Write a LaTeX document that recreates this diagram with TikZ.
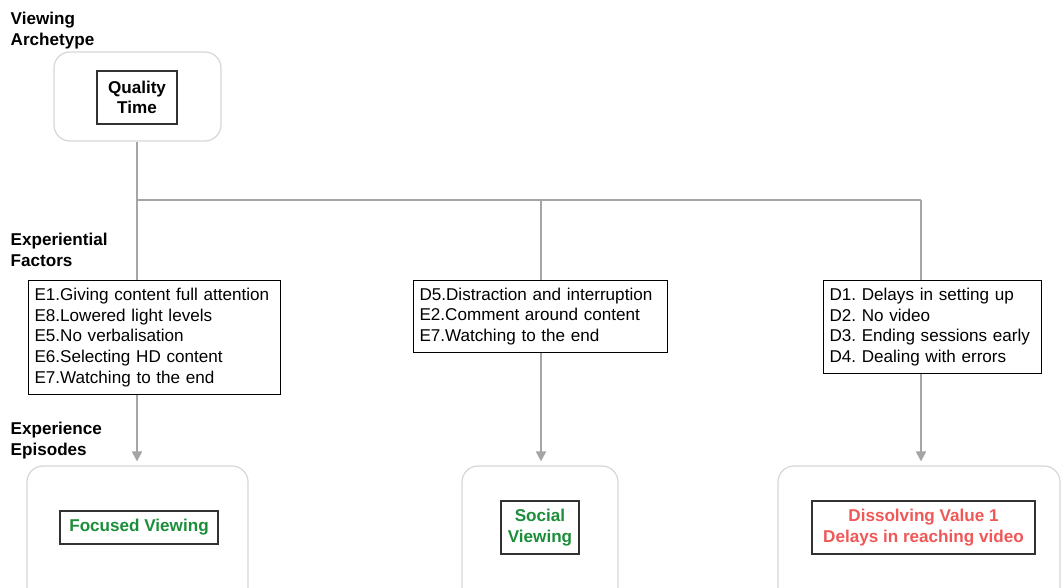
\documentclass[tikz,border=0pt]{standalone}
\usepackage{fontspec}
\setmainfont{Liberation Sans}
\usetikzlibrary{positioning,arrows.meta}

\definecolor{wiregray}{RGB}{165,165,165}
\definecolor{panelrim}{RGB}{215,215,215}
\definecolor{tagrim}{RGB}{50,50,50}
\definecolor{positive}{RGB}{28,142,58}
\definecolor{negative}{RGB}{240,88,88}

\newcommand{\bodysize}{\fontsize{17.1}{20.7}\selectfont\frenchspacing}

\tikzset{
  tier/.style={anchor=north west, inner sep=0pt, align=left, font=\bodysize\bfseries},
  panel/.style={draw=panelrim, line width=1.2pt, rounded corners=16pt, fill=white},
  tag/.style={draw=tagrim, line width=1.3pt, align=center, inner sep=0pt, font=\bodysize\bfseries},
  factors/.style={draw=black, line width=1pt, anchor=north west, align=left,
    inner xsep=6pt, inner ysep=0pt, font=\bodysize},
  wire/.style={draw=wiregray, line width=2pt},
  feed/.style={wire, -{Triangle[length=10pt,width=10pt]}, shorten >=4pt}
}

\begin{document}
\begin{tikzpicture}[x=1pt, y=-1pt]
  \useasboundingbox (0,0) rectangle (1061,588);

  % row headings
  \node (lblarch) [tier] at (10.5,12) {Viewing\\Archetype};
  \node (lblfact) [tier] at (10.5,233) {Experiential\\Factors};
  \node (lblepis) [tier] at (10.5,422) {Experience\\Episodes};

  % archetype
  \node (arch) [panel, minimum width=167pt, minimum height=89pt] at (137.5,96.5) {};
  \node (quality) [tag, minimum width=80pt, minimum height=53pt] at (137,97.5) {Quality\\Time};

  % experiential factors
  \node (f1) [factors, text width=240pt, minimum height=114pt] at (28,280)
    {E1.Giving content full attention\\E8.Lowered light levels\\E5.No verbalisation\\E6.Selecting HD content\\E7.Watching to the end};
  \node (f2) [factors, text width=242pt, minimum height=72pt] at (413,280)
    {D5.Distraction and interruption\\E2.Comment around content\\E7.Watching to the end};
  \node (f3) [factors, text width=206pt, minimum height=93pt] at (823,280)
    {D1. Delays in setting up\\D2. No video\\D3. Ending sessions early\\D4. Dealing with errors};

  % experience episodes
  \node (e1) [panel, minimum width=221pt, minimum height=144pt] at (137.5,538) {};
  \node (e2) [panel, minimum width=156pt, minimum height=144pt] at (540,538) {};
  \node (e3) [panel, minimum width=282pt, minimum height=144pt] at (919,538) {};
  \node (focused) [tag, text=positive, minimum width=158pt, minimum height=33pt] at (139,527.5) {Focused Viewing};
  \node (social) [tag, text=positive, minimum width=78pt, minimum height=53pt] at (540,527.5) {Social\\Viewing};
  \node (dissolve) [tag, text=negative, minimum width=223pt, minimum height=53pt] at (923.5,527.5) {Dissolving Value 1\\Delays in reaching video};

  % branching
  \coordinate (b1) at (137,200);
  \coordinate (b2) at (541,200);
  \coordinate (b3) at (921,200);
  \draw [wire] (arch.south -| b1) -- (b1) -- (b3);
  \draw [wire] (b1) -- (b1 |- f1.north);
  \draw [wire] (b2) -- (b2 |- f2.north);
  \draw [wire] (b3) -- (b3 |- f3.north);
  \draw [feed] (b1 |- f1.south) -- (b1 |- e1.north);
  \draw [feed] (b2 |- f2.south) -- (b2 |- e2.north);
  \draw [feed] (b3 |- f3.south) -- (b3 |- e3.north);
\end{tikzpicture}
\end{document}
